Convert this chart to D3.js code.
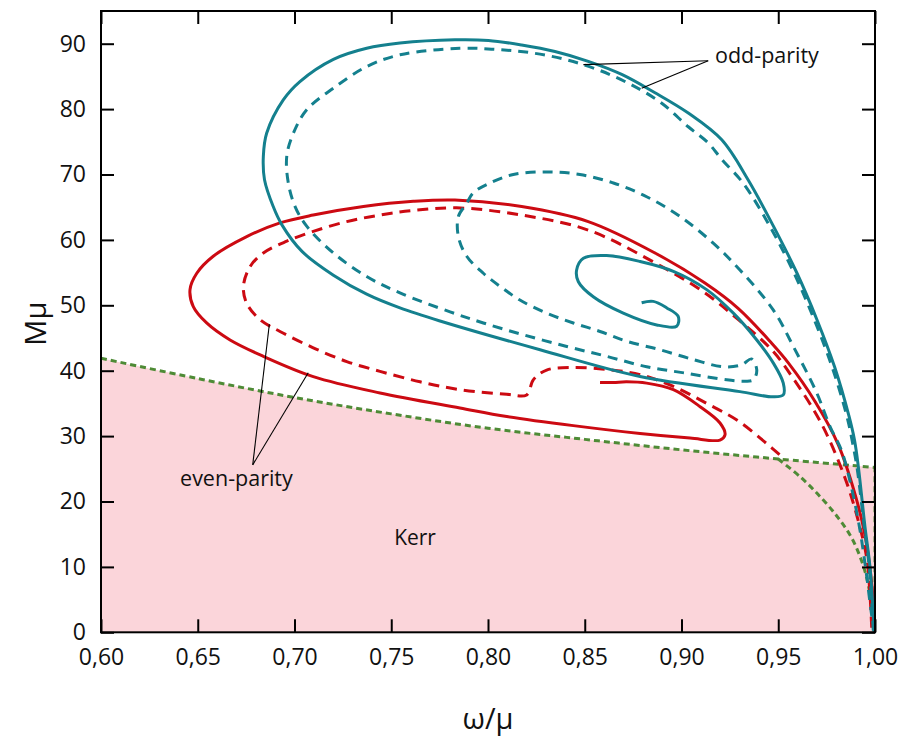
<!DOCTYPE html>
<html>
<head>
<meta charset="utf-8">
<script src="https://cdn.jsdelivr.net/npm/d3@7"></script>
<style>
  body { margin: 0; background: #fff; }
  text { font-family: "Open Sans", sans-serif; fill: #111; }
</style>
</head>
<body>
<div id="chart"></div>
<script>
// data: [omega/mu, M mu]
var oddSolid = [
  [0.9996, 0.2], [0.9974, 10.0], [0.9948, 16.2], [0.9914, 25.3], [0.9894, 29.4], [0.9866, 33.0],
  [0.9791, 40.6], [0.9700, 47.8], [0.9597, 54.9], [0.9475, 62.1], [0.9344, 69.2], [0.9208, 75.3],
  [0.9035, 79.4], [0.8863, 82.5], [0.8691, 85.3], [0.8518, 87.3], [0.8346, 88.8], [0.8174, 89.8],
  [0.8002, 90.5], [0.7829, 90.6], [0.7545, 90.1], [0.7373, 89.3], [0.7201, 87.6], [0.7028, 84.2],
  [0.6942, 81.4], [0.6856, 76.3], [0.6839, 72.8], [0.6845, 69.2], [0.6890, 65.1], [0.6935, 62.3],
  [0.7040, 58.2], [0.7201, 54.6], [0.7373, 51.7], [0.7545, 49.6], [0.7752, 47.6], [0.8269, 43.2],
  [0.8786, 39.1], [0.9302, 36.8], [0.9474, 36.0], [0.9526, 36.3], [0.9526, 38.1], [0.9474, 41.2],
  [0.9389, 44.7], [0.9268, 48.8], [0.9130, 52.4], [0.8958, 55.2], [0.8786, 56.7], [0.8613, 57.6],
  [0.8493, 57.2], [0.8458, 55.4], [0.8467, 53.6], [0.8544, 51.3], [0.8699, 48.8], [0.8872, 47.0],
  [0.8975, 46.8], [0.8983, 48.3], [0.8924, 49.6], [0.8854, 50.6], [0.8794, 50.4]
];

var oddDashed = [
  [0.9991, 0.3], [0.9970, 10.0], [0.9945, 16.0], [0.9908, 25.0], [0.9884, 29.0], [0.9855, 33.0],
  [0.9778, 40.6], [0.9686, 47.8], [0.9582, 54.9], [0.9458, 62.0], [0.9318, 68.7], [0.9208, 72.3],
  [0.9139, 74.8], [0.9035, 77.3], [0.8898, 80.9], [0.8742, 83.7], [0.8570, 86.0], [0.8398, 87.6],
  [0.8226, 88.6], [0.8053, 89.1], [0.7855, 89.3], [0.7545, 88.3], [0.7373, 86.5], [0.7201, 83.2],
  [0.7063, 79.9], [0.6994, 76.3], [0.6960, 72.8], [0.6968, 68.7], [0.7003, 65.1], [0.7063, 62.1],
  [0.7201, 58.0], [0.7373, 54.4], [0.7545, 51.9], [0.7804, 49.0], [0.7976, 47.3], [0.8182, 45.5],
  [0.8407, 43.7], [0.8613, 42.2], [0.8820, 40.6], [0.9027, 39.6], [0.9234, 38.6], [0.9328, 38.4],
  [0.9371, 38.6], [0.9389, 40.1], [0.9362, 41.8], [0.9311, 40.9], [0.9216, 40.6], [0.9061, 41.7],
  [0.8889, 43.2], [0.8717, 44.5], [0.8579, 46.0], [0.8441, 47.3], [0.8303, 48.8], [0.8165, 50.8],
  [0.8062, 52.9], [0.7976, 54.9], [0.7890, 57.5], [0.7847, 60.5], [0.7847, 63.6], [0.7890, 65.6],
  [0.7924, 67.2], [0.8010, 68.7], [0.8131, 70.0], [0.8303, 70.4], [0.8475, 70.0], [0.8648, 68.7],
  [0.8820, 66.6], [0.8992, 63.6], [0.9164, 59.5], [0.9302, 55.4], [0.9474, 49.3], [0.9578, 43.7],
  [0.9699, 36.6], [0.9767, 31.5], [0.9828, 27.7], [0.9881, 21.8], [0.9922, 15.7], [0.9953, 9.5],
  [0.9979, 3.4], [0.9995, 0.1]
];

var evenSolid = [
  [0.9996, 0.2], [0.9991, 4.7], [0.9974, 9.8], [0.9948, 14.9], [0.9897, 21.1], [0.9810, 28.7],
  [0.9690, 35.3], [0.9552, 41.2], [0.9466, 44.2], [0.9294, 49.5], [0.9121, 53.4], [0.8863, 58.0],
  [0.8518, 62.8], [0.8174, 65.1], [0.7829, 66.1], [0.7614, 65.9], [0.7356, 65.1], [0.7097, 63.8],
  [0.6925, 62.6], [0.6753, 60.5], [0.6580, 57.5], [0.6495, 54.9], [0.6460, 52.4], [0.6477, 49.8],
  [0.6546, 47.3], [0.6667, 44.7], [0.6839, 42.2], [0.7097, 39.1], [0.7442, 36.6], [0.7855, 34.3],
  [0.8097, 33.0], [0.8441, 31.6], [0.8786, 30.4], [0.9044, 29.7], [0.9199, 29.4], [0.9225, 30.2],
  [0.9199, 32.0], [0.9096, 34.5], [0.8958, 37.1], [0.8820, 38.1], [0.8716, 38.3], [0.8648, 38.2],
  [0.8579, 38.2]
];

var evenDashed = [
  [0.9983, 0.7], [0.9974, 5.8], [0.9957, 11.4], [0.9914, 17.0], [0.9845, 23.6], [0.9725, 31.8],
  [0.9587, 38.4], [0.9466, 43.2], [0.9294, 47.8], [0.9121, 51.9], [0.8863, 56.5], [0.8518, 61.5],
  [0.8174, 63.8], [0.7838, 64.9], [0.7614, 64.5], [0.7442, 63.8], [0.7270, 62.8], [0.7097, 61.3],
  [0.6960, 59.8], [0.6839, 58.0], [0.6770, 55.9], [0.6736, 52.9], [0.6753, 50.3], [0.6822, 47.8],
  [0.6925, 46.0], [0.7097, 43.5], [0.7270, 41.4], [0.7442, 39.9], [0.7649, 38.3], [0.7855, 37.1],
  [0.8097, 36.4], [0.8200, 36.3], [0.8234, 38.6], [0.8303, 40.1], [0.8441, 40.5], [0.8613, 40.2],
  [0.8786, 39.4], [0.8958, 37.6], [0.9130, 35.0], [0.9294, 32.3], [0.9466, 28.2], [0.9535, 26.4]
];

// Kerr existence line and its branch
var kerrLine = [
  [0.60, 41.9], [0.65, 38.8], [0.70, 35.9], [0.75, 33.4], [0.80, 31.2], [0.85, 29.5],
  [0.90, 27.9], [0.95, 26.5], [1.00, 25.2]
];
var kerrBranch = [
  [0.950, 26.5], [0.962, 23.6], [0.9724, 20.5], [0.981, 17.5], [0.988, 14.4], [0.9931, 10.9],
  [0.9965, 7.3], [1.000, 0]
];
var kerrEdge = [[1.0, 0], [1.0, 25.2]];

var xTicks = [0.60, 0.65, 0.70, 0.75, 0.80, 0.85, 0.90, 0.95, 1.00];
var yTicks = [0, 10, 20, 30, 40, 50, 60, 70, 80, 90];

// annotation anchors, in data units
var oddLabel = { text: "odd-parity", at: [0.9173, 87.0], from: [0.9138, 87.4], to: [[0.8493, 86.8], [0.8794, 83.2]] };
var evenLabel = { text: "even-parity", at: [0.6700, 22.3], from: [0.6784, 25.6], to: [[0.6870, 47.1], [0.7071, 39.7]] };
var kerrLabel = { text: "Kerr", at: [0.7623, 13.4] };

var width = 915, height = 736;
var teal = "#14808e", red = "#cc0a12", green = "#4e8b36", pink = "#fbd5da";

var x = d3.scaleLinear().domain([0.6, 1.0]).range([101, 875]);
var y = d3.scaleLinear().domain([0, 95]).range([632.3, 11]);

var svg = d3.select("#chart").append("svg")
  .attr("width", width)
  .attr("height", height);

var line = d3.line()
  .x(function(d) { return x(d[0]); })
  .y(function(d) { return y(d[1]); })
  .curve(d3.curveCatmullRom.alpha(0.5));

var straight = d3.line()
  .x(function(d) { return x(d[0]); })
  .y(function(d) { return y(d[1]); });

// pink Kerr region
var area = d3.area()
  .x(function(d) { return x(d[0]); })
  .y0(y(0))
  .y1(function(d) { return y(d[1]); })
  .curve(d3.curveCatmullRom.alpha(0.5));

svg.append("path")
  .datum(kerrLine)
  .attr("d", area)
  .attr("fill", pink);

svg.append("defs").append("clipPath").attr("id", "plot")
  .append("rect").attr("x", 101).attr("y", 11).attr("width", 774).attr("height", 621.3);

var plot = svg.append("g").attr("clip-path", "url(#plot)");

// green dotted lines
[kerrLine, kerrBranch].forEach(function(d) {
  plot.append("path").datum(d)
    .attr("d", line)
    .attr("fill", "none")
    .attr("stroke", green)
    .attr("stroke-width", 3)
    .attr("stroke-dasharray", "6,4");
});
plot.append("path").datum(kerrEdge)
  .attr("d", straight)
  .attr("fill", "none")
  .attr("stroke", green)
  .attr("stroke-width", 3)
  .attr("stroke-dasharray", "6,4");

var curves = [
  { data: evenDashed, color: red, dash: "11,7" },
  { data: evenSolid, color: red, dash: null },
  { data: oddDashed, color: teal, dash: "10,7" },
  { data: oddSolid, color: teal, dash: null }
];

curves.forEach(function(c) {
  plot.append("path").datum(c.data)
    .attr("d", line)
    .attr("fill", "none")
    .attr("stroke", c.color)
    .attr("stroke-width", 3)
    .attr("stroke-linejoin", "round")
    .attr("stroke-dasharray", c.dash);
});

// annotations
[oddLabel, evenLabel].forEach(function(a) {
  a.to.forEach(function(t) {
    svg.append("line")
      .attr("x1", x(a.from[0])).attr("y1", y(a.from[1]))
      .attr("x2", x(t[0])).attr("y2", y(t[1]))
      .attr("stroke", "#000")
      .attr("stroke-width", 1.1);
  });
});

svg.append("text")
  .attr("x", x(oddLabel.at[0])).attr("y", y(oddLabel.at[1]))
  .attr("font-size", 21.5)
  .text(oddLabel.text);

svg.append("text")
  .attr("x", x(evenLabel.at[0])).attr("y", y(evenLabel.at[1]))
  .attr("text-anchor", "middle")
  .attr("font-size", 21.5)
  .text(evenLabel.text);

svg.append("text")
  .attr("x", x(kerrLabel.at[0])).attr("y", y(kerrLabel.at[1]))
  .attr("text-anchor", "middle")
  .attr("font-size", 21)
  .text(kerrLabel.text);

// axes: ticks inward on all four sides
var fmtX = function(d) { return d3.format(".2f")(d).replace(".", ","); };

var gx = svg.append("g").attr("transform", "translate(0," + y(0) + ")")
  .call(d3.axisBottom(x).tickValues(xTicks).tickFormat(fmtX).tickSizeInner(-13).tickSizeOuter(0).tickPadding(16));
var gy = svg.append("g").attr("transform", "translate(" + x(0.6) + ",0)")
  .call(d3.axisLeft(y).tickValues(yTicks).tickSizeInner(-13).tickSizeOuter(0).tickPadding(15));
var gt = svg.append("g").attr("transform", "translate(0," + y(95) + ")")
  .call(d3.axisTop(x).tickValues(xTicks).tickFormat("").tickSizeInner(-13).tickSizeOuter(0));
var gr = svg.append("g").attr("transform", "translate(" + x(1.0) + ",0)")
  .call(d3.axisRight(y).tickValues(yTicks).tickFormat("").tickSizeInner(-13).tickSizeOuter(0));

[gx, gy, gt, gr].forEach(function(g) {
  g.select(".domain").remove();
  g.selectAll(".tick line").attr("stroke", "#000").attr("stroke-width", 2);
  g.selectAll(".tick text")
    .attr("font-family", "'Open Sans', sans-serif")
    .attr("font-size", 23)
    .attr("fill", "#111");
});

svg.append("rect")
  .attr("x", x(0.6)).attr("y", y(95))
  .attr("width", x(1.0) - x(0.6))
  .attr("height", y(0) - y(95))
  .attr("fill", "none")
  .attr("stroke", "#000")
  .attr("stroke-width", 2);

// axis titles
svg.append("text")
  .attr("transform", "translate(46," + ((y(0) + y(95)) / 2 + 2) + ") rotate(-90)")
  .attr("text-anchor", "middle")
  .attr("font-size", 29)
  .text("Mμ");

svg.append("text")
  .attr("x", (x(0.6) + x(1.0)) / 2)
  .attr("y", 729)
  .attr("text-anchor", "middle")
  .attr("font-size", 29)
  .text("ω/μ");
</script>
</body>
</html>
